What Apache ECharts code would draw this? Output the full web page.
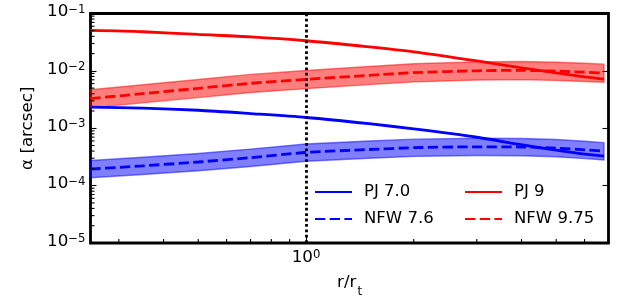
<!DOCTYPE html>
<html>
<head>
<meta charset="utf-8">
<script src="https://cdn.jsdelivr.net/npm/echarts@6/dist/echarts.min.js"></script>
<style>html,body{margin:0;padding:0;background:#fff}#c{width:640px;height:301px}</style>
</head>
<body>
<div id="c"></div>
<script>
// ---- data ----
const xVals   = [0.25, 0.35, 0.5, 0.7, 1.0, 1.5, 2.0, 3.0, 4.0, 5.0, 6.0, 6.8];
const pj70    = [0.00234, 0.00225, 0.00206, 0.00180, 0.00154, 0.00120, 0.000973, 0.000697, 0.000516, 0.000414, 0.000353, 0.000326];
const nfw76   = [0.000194, 0.000221, 0.000258, 0.000307, 0.000378, 0.000426, 0.000458, 0.000475, 0.000471, 0.000451, 0.000421, 0.000398];
const nfw76Hi = [0.000274, 0.000312, 0.000364, 0.000433, 0.000533, 0.000601, 0.000646, 0.000670, 0.000664, 0.000636, 0.000594, 0.000561];
const nfw76Lo = [0.000137, 0.000156, 0.000182, 0.000216, 0.000266, 0.000300, 0.000323, 0.000335, 0.000332, 0.000318, 0.000296, 0.000280];
const pj9     = [0.0506, 0.0481, 0.0431, 0.0392, 0.0335, 0.0261, 0.0214, 0.0149, 0.01128, 0.00923, 0.00787, 0.00720];
const nfw975  = [0.00329, 0.00401, 0.00496, 0.00607, 0.00711, 0.00835, 0.00931, 0.01004, 0.0102, 0.00989, 0.00949, 0.00916];
const nfw975Hi= [0.00470, 0.00573, 0.00709, 0.00868, 0.01017, 0.01194, 0.01331, 0.01436, 0.01459, 0.01414, 0.01357, 0.0131];
const nfw975Lo= [0.00227, 0.00277, 0.00342, 0.00419, 0.00490, 0.00576, 0.00642, 0.00692, 0.00703, 0.00682, 0.00654, 0.00632];
const vLine   = [1.0];
const xRange  = [0.25, 7];
const yRange  = [1e-5, 1e-1];
const minorX  = [0.3, 0.4, 0.5, 0.6, 0.7, 0.8, 0.9, 2, 3, 4, 5, 6];
const minorY  = [2e-5,3e-5,4e-5,5e-5,6e-5,7e-5,8e-5,9e-5,
                 2e-4,3e-4,4e-4,5e-4,6e-4,7e-4,8e-4,9e-4,
                 2e-3,3e-3,4e-3,5e-3,6e-3,7e-3,8e-3,9e-3,
                 2e-2,3e-2,4e-2,5e-2,6e-2,7e-2,8e-2,9e-2];
const names   = ['PJ 7.0', 'NFW 7.6', 'PJ 9', 'NFW 9.75'];

const FONT = 'DejaVu Sans';
const chart = echarts.init(document.getElementById('c'), null, {renderer: 'canvas'});

function pow10Label(v) {
  const e = Math.log10(v), r = Math.round(e);
  if (Math.abs(e - r) > 1e-6) return '';
  return '{a|10}{b|' + (r < 0 ? '\u2212' : '') + Math.abs(r) + '}';
}
const supRich = {
  a: {fontFamily: FONT, fontSize: 16.7, color: '#000', lineHeight: 20, verticalAlign: 'top'},
  b: {fontFamily: FONT, fontSize: 11.7, color: '#000', lineHeight: 11, verticalAlign: 'top'}
};

function bandSeries(lo, hi, color) {
  return {
    type: 'custom', coordinateSystem: 'cartesian2d', silent: true, z: 1,
    data: xVals.map((x, i) => [x, lo[i], hi[i]]),
    encode: {x: 0, y: [1, 2]},
    renderItem: function (params, api) {
      if (params.dataIndex !== 0) return null;
      const up = xVals.map((x, i) => api.coord([x, hi[i]]));
      const dn = xVals.map((x, i) => api.coord([x, lo[i]])).reverse();
      return {type: 'polygon', shape: {points: up.concat(dn)},
              style: {fill: color, stroke: color, lineWidth: 1.4}};
    }
  };
}
function lineSeries(name, ys, color, dashed) {
  return {
    name: name, type: 'line', data: xVals.map((x, i) => [x, ys[i]]),
    symbol: 'none', showSymbol: false, z: 3, smooth: 0.25,
    lineStyle: {color: color, width: 2.8, type: dashed ? [10.3, 4.4] : 'solid'},
    itemStyle: {color: color}
  };
}
function legend(data, left) {
  return {
    data: data, orient: 'vertical', left: left, top: 182, padding: 0,
    itemWidth: 37, itemHeight: 14, itemGap: 7,
    itemStyle: {opacity: 0},
    textStyle: {fontFamily: FONT, fontSize: 16.5, color: '#000', lineHeight: 20, padding: [0, 0, 0, 7]}
  };
}

const red = lineSeries(names[3], nfw975, '#ff0000', true);
red.markLine = {
  silent: true, symbol: 'none', label: {show: false}, z: 10,
  lineStyle: {color: '#000', width: 2.8, type: [2.8, 2.6]},
  data: vLine.map(v => ({xAxis: v}))
};

chart.setOption({
  animation: false,
  backgroundColor: '#fff',
  grid: {left: 90.5, right: 31.5, top: 13.5, bottom: 58, show: true,
         outerBoundsMode: 'none', containLabel: false,
         borderColor: '#000', borderWidth: 2.8, backgroundColor: 'transparent'},
  legend: [legend([names[0], names[1]], 314), legend([names[2], names[3]], 464)],
  xAxis: {
    type: 'log', logBase: 10, min: xRange[0], max: xRange[1],
    axisLine: {show: false}, splitLine: {show: false},
    axisTick: {show: true, inside: true, length: 6, lineStyle: {color: '#000', width: 1.1}},
    axisLabel: {margin: 6, formatter: pow10Label, rich: supRich, showMinLabel: false, showMaxLabel: false},
    name: '{a|r/r}{s|t}', nameLocation: 'middle', nameGap: 31,
    nameTextStyle: {rich: {
      a: {fontFamily: FONT, fontSize: 16.7, color: '#000', lineHeight: 20, verticalAlign: 'top'},
      s: {fontFamily: FONT, fontSize: 11.7, color: '#000', lineHeight: 12, verticalAlign: 'top', padding: [12, 0, 0, 1]}
    }}
  },
  yAxis: [{
    type: 'log', logBase: 10, min: yRange[0], max: yRange[1],
    axisLine: {show: false}, splitLine: {show: false},
    axisTick: {show: true, inside: true, length: 6, lineStyle: {color: '#000', width: 1.1}},
    axisLabel: {margin: 5, formatter: pow10Label, rich: supRich},
    name: '\u03b1 [arcsec]', nameLocation: 'middle', nameGap: 50,
    nameTextStyle: {fontFamily: FONT, fontSize: 16.7, color: '#000'}
  }, {
    type: 'log', logBase: 10, min: yRange[0], max: yRange[1], position: 'right',
    axisLine: {show: false}, splitLine: {show: false},
    axisTick: {show: true, inside: true, length: 6, lineStyle: {color: '#000', width: 1.1}},
    axisLabel: {show: false}
  }],
  series: [
    bandSeries(nfw76Lo, nfw76Hi, 'rgba(0,0,255,0.5)'),
    bandSeries(nfw975Lo, nfw975Hi, 'rgba(255,0,0,0.5)'),
    lineSeries(names[0], pj70, '#0000ff', false),
    lineSeries(names[1], nfw76, '#0000ff', true),
    lineSeries(names[2], pj9, '#ff0000', false),
    red,
    {
      type: 'custom', coordinateSystem: 'cartesian2d', silent: true, clip: false, z: 5,
      data: minorX.map(v => [v, yRange[0]]),
      renderItem: function (params, api) {
        const p = api.coord([api.value(0), api.value(1)]);
        return {type: 'line', shape: {x1: p[0], y1: p[1], x2: p[0], y2: p[1] - 4},
                style: {stroke: '#000', lineWidth: 1.1}};
      }
    },
    {
      type: 'custom', coordinateSystem: 'cartesian2d', silent: true, clip: false, z: 5,
      data: minorY.map(v => [xRange[0], v]),
      renderItem: function (params, api) {
        const p = api.coord([api.value(0), api.value(1)]);
        return {type: 'line', shape: {x1: p[0], y1: p[1], x2: p[0] + 4, y2: p[1]},
                style: {stroke: '#000', lineWidth: 1.1}};
      }
    }
  ]
});
</script>
</body>
</html>
